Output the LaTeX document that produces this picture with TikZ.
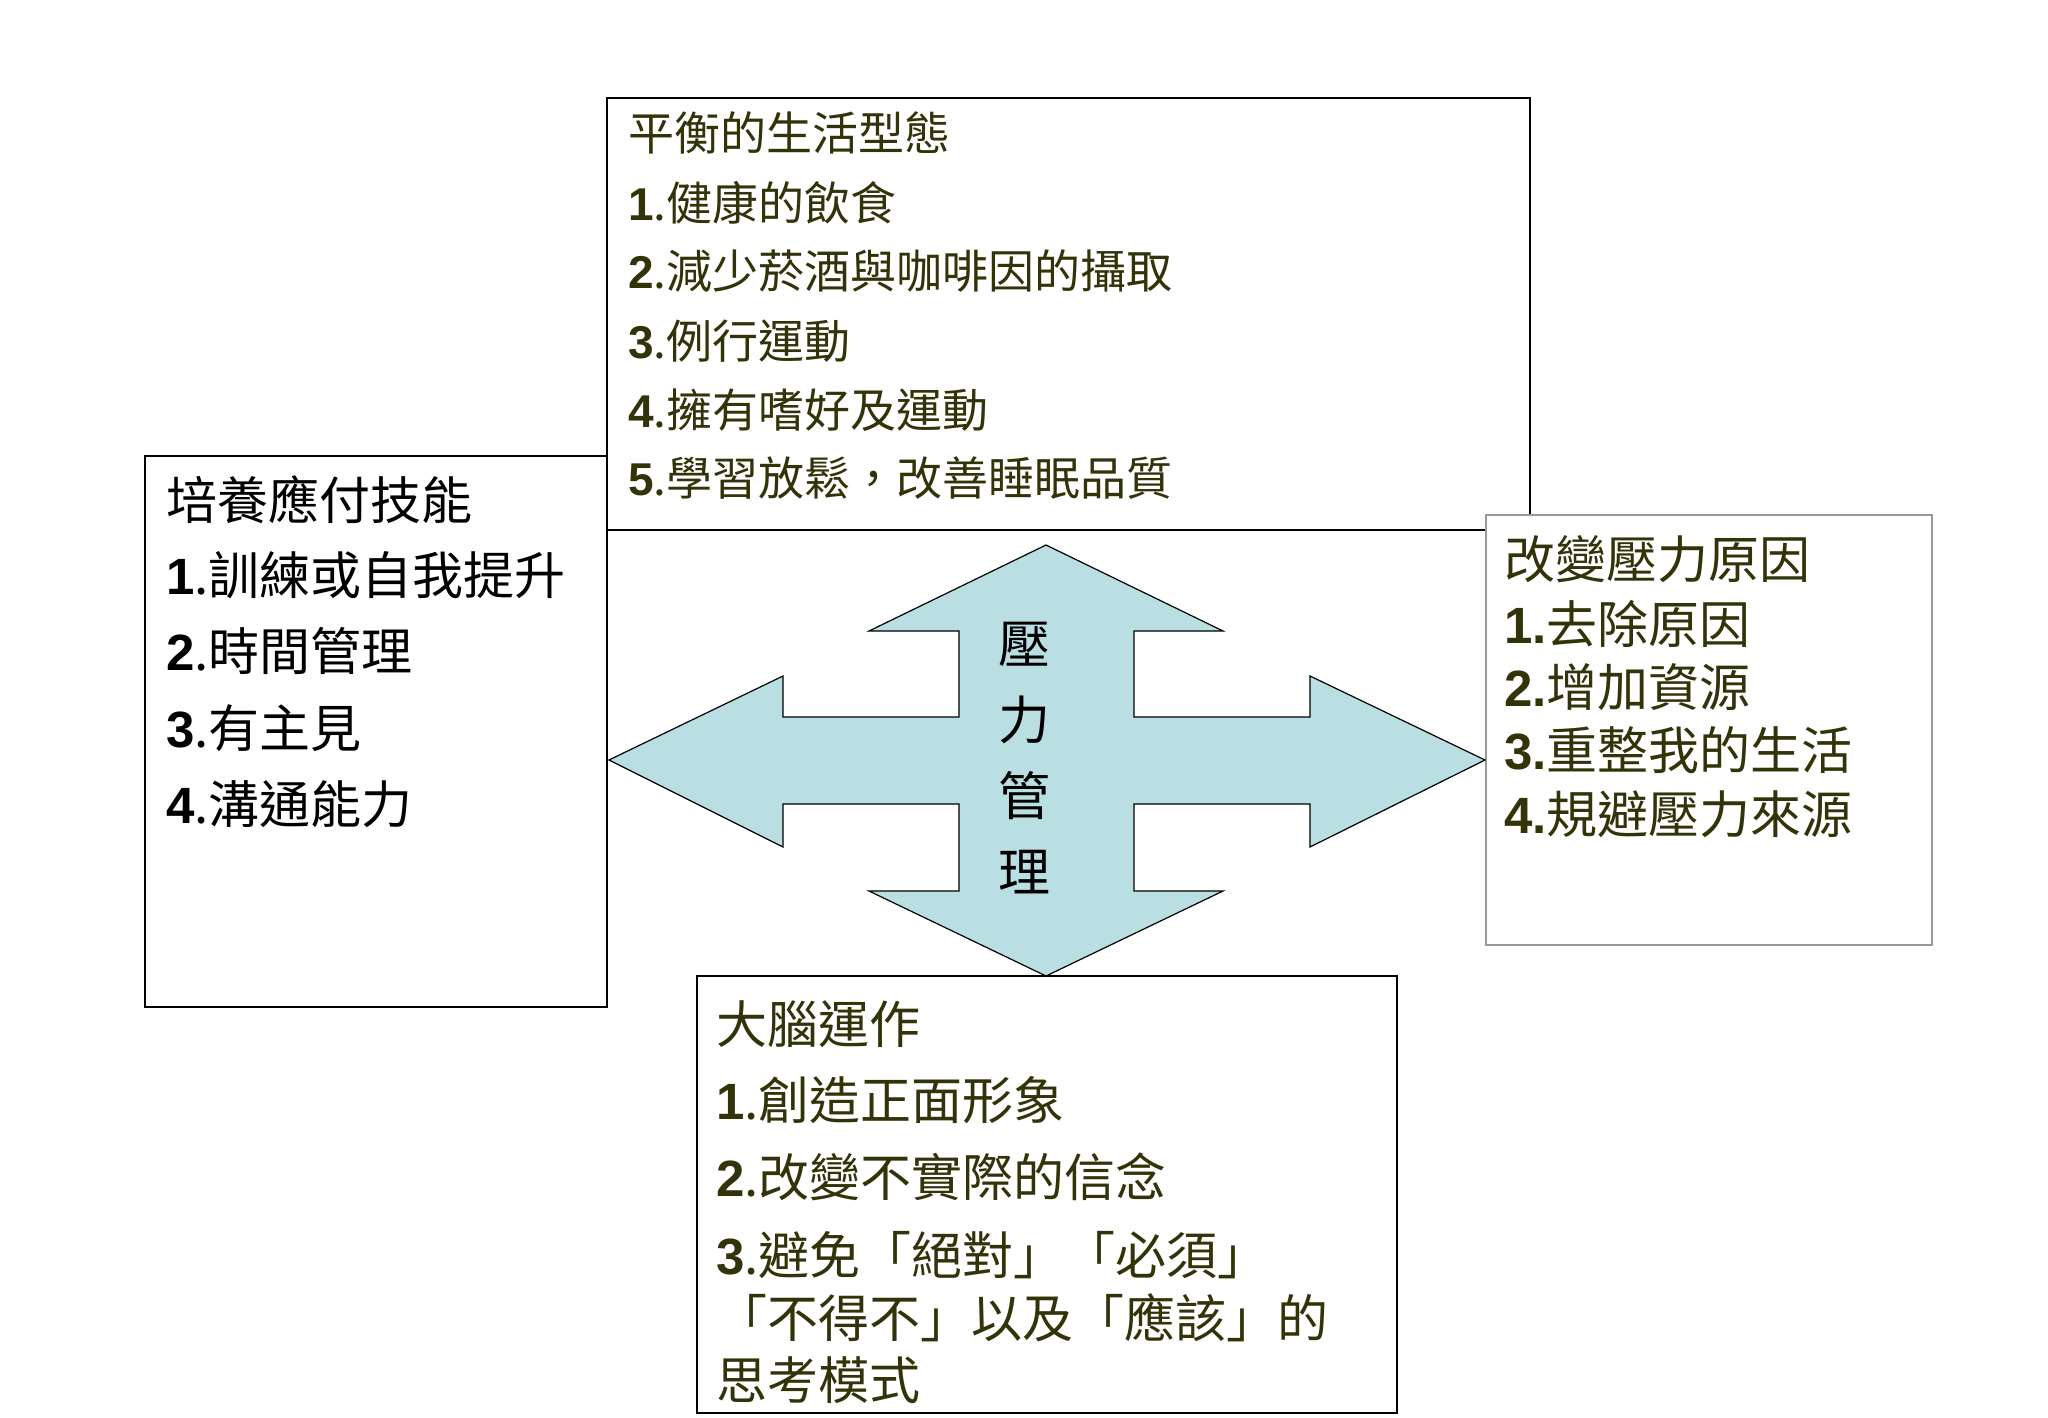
\documentclass[tikz,border=0pt]{standalone}
\usepackage{fontspec}
\newfontfamily\cjk{Noto Sans CJK TC}
\newfontfamily\numf{Liberation Sans}
\definecolor{olive}{HTML}{33330A}
\definecolor{arrowfill}{HTML}{BADFE3}
\newcommand{\nm}[1]{{\numf\bfseries #1}}
\begin{document}
\begin{tikzpicture}[x=1pt,y=-1pt,
  boxk/.style={draw=black,line width=2.2pt,fill=white},
  boxg/.style={draw=gray!80,line width=1.6pt,fill=white},
  ln/.style={anchor=west,inner sep=0pt,font=\cjk},
  tl/.style={ln,text=olive,font=\cjk\fontsize{46}{48}\selectfont},
  ll/.style={ln,text=black,font=\cjk\fontsize{51}{52}\selectfont},
  rl/.style={ln,text=olive,font=\cjk\fontsize{51}{52}\selectfont},
  bl/.style={ln,text=olive,font=\cjk\fontsize{51}{52}\selectfont}]
\useasboundingbox (0,0) rectangle (2048,1418);
\fill[white] (0,0) rectangle (2048,1418);
% boxes
\draw[boxk] (145,456) rectangle (607,1007);
\draw[boxk] (607,98) rectangle (1530,530);
\draw[boxg] (1486,515) rectangle (1932,945);
\draw[boxk] (697,976) rectangle (1397,1413);
% arrow
\draw[fill=arrowfill,draw=black,line width=1.2pt]
 (1046,545) -- (1223,631) -- (1134,631) -- (1134,717) -- (1310,717) -- (1310,676)
 -- (1485,760) -- (1310,847) -- (1310,804) -- (1134,804) -- (1134,891) -- (1223,891)
 -- (1046,976) -- (869,891) -- (959,891) -- (959,804) -- (783,804) -- (783,847)
 -- (609,760) -- (783,676) -- (783,717) -- (959,717) -- (959,631) -- (869,631) -- cycle;
\node[inner sep=0pt,font=\cjk\fontsize{52}{76}\selectfont,align=center] (c) at (1024,758) {壓\\力\\管\\理};
% top box
\node[tl] (t0) at (628,133) {平衡的生活型態};
\node[tl] (t1) at (628,203) {\nm{1}.健康的飲食};
\node[tl] (t2) at (628,271) {\nm{2}.減少菸酒與咖啡因的攝取};
\node[tl] (t3) at (628,341) {\nm{3}.例行運動};
\node[tl] (t4) at (628,410) {\nm{4}.擁有嗜好及運動};
\node[tl] (t5) at (628,478) {\nm{5}.學習放鬆，改善睡眠品質};
% left box
\node[ll] (l0) at (166,500) {培養應付技能};
\node[ll] (l1) at (166,575) {\nm{1}.訓練或自我提升};
\node[ll] (l2) at (166,651) {\nm{2}.時間管理};
\node[ll] (l3) at (166,728) {\nm{3}.有主見};
\node[ll] (l4) at (166,804) {\nm{4}.溝通能力};
% right box
\node[rl] (r0) at (1504,559) {改變壓力原因};
\node[rl] (r1) at (1504,624) {\nm{1.}去除原因};
\node[rl] (r2) at (1504,687) {\nm{2.}增加資源};
\node[rl] (r3) at (1504,750) {\nm{3.}重整我的生活};
\node[rl] (r4) at (1504,814) {\nm{4.}規避壓力來源};
% bottom box
\node[bl] (b0) at (716,1024) {大腦運作};
\node[bl] (b1) at (716,1100) {\nm{1}.創造正面形象};
\node[bl] (b2) at (716,1177) {\nm{2}.改變不實際的信念};
\node[bl] (b3) at (716,1255) {\nm{3}.避免「絕對」「必須」};
\node[bl] (b4) at (716,1318) {「不得不」以及「應該」的};
\node[bl] (b5) at (716,1380) {思考模式};
\end{tikzpicture}
\end{document}
